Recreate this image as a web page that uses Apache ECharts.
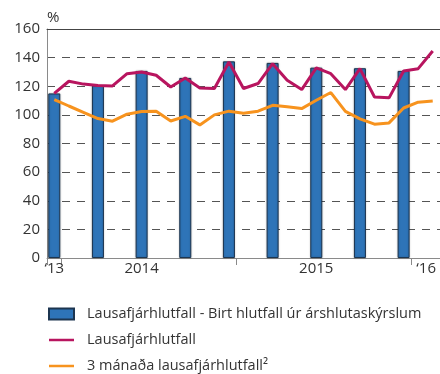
<!DOCTYPE html>
<html>
<head>
<meta charset="utf-8">
<script src="https://cdn.jsdelivr.net/npm/echarts@6/dist/echarts.min.js"></script>
<style>
html,body{margin:0;padding:0;background:#fff;}
#chart{width:440px;height:374px;}
</style>
</head>
<body>
<div id="chart"></div>
<script>
// mánuðir, des 2013 - feb 2016
var months = ['2013-12','2014-01','2014-02','2014-03','2014-04','2014-05','2014-06','2014-07','2014-08','2014-09','2014-10','2014-11','2014-12',
    '2015-01','2015-02','2015-03','2015-04','2015-05','2015-06','2015-07','2015-08','2015-09','2015-10','2015-11','2015-12','2016-01','2016-02'];
// merki á x-ás (index -> texti)
var xLabels = {0:"‘13", 6:'2014', 18:'2015', 25:"‘16"};
var xTicks = [0, 1, 13, 25];
// birt hlutfall úr árshlutaskýrslum (ársfjórðungslega)
var birt = [115,null,null,120.6,null,null,130.7,null,null,125.8,null,null,137.4,null,null,136.3,null,null,133,null,null,132.6,null,null,130.7,null,null];
var lausafe = [115,123.5,121.5,120.5,120.2,128.8,130,127.7,119.5,125.8,118.8,118.4,137,118.4,121.9,135.8,124.2,117.7,132.8,128.8,117.7,132.3,112.5,111.9,130.7,132.3,144.6];
var thrirMan = [110.7,106.2,101.8,97.4,95.6,100.5,102.3,102.6,95.7,99,93,100,102.6,101.2,102.6,106.7,105.6,104.4,110.2,115.6,102.5,97.2,93.5,94.4,104.8,108.9,109.7];
var yTicks = [0, 160, 20];

var names = ['Lausafjárhlutfall - Birt hlutfall úr árshlutaskýrslum', 'Lausafjárhlutfall', '3 mánaða lausafjárhlutfall²'];
var font = '"Open Sans", "Noto Sans", sans-serif';
var flat = 'path://M0,0H10V1H0Z'; // nánast ósýnilegt tákn, bara línan sést

var myChart = echarts.init(document.getElementById('chart'));
var option = {
    animation: false,
    textStyle: {fontFamily: font},
    grid: {left: 47, right: -3, top: 29, bottom: 116},
    legend: {
        orient: 'vertical',
        left: 48,
        top: 306,
        padding: 0,
        height: 68,
        itemWidth: 25,
        itemHeight: 11,
        itemGap: 10,
        data: [
            {name: names[0], icon: 'rect'},
            {name: names[1], icon: flat},
            {name: names[2], icon: flat}
        ],
        textStyle: {fontSize: 14.5, color: '#333', fontFamily: font, padding: [0, 0, 0, 8], lineHeight: 16}
    },
    xAxis: [{
        type: 'category',
        data: months,
        axisLine: {lineStyle: {color: '#8a8a8a', width: 1}},
        axisTick: {
            show: true,
            length: 7,
            lineStyle: {color: '#8a8a8a'},
            interval: function (i) { return xTicks.indexOf(i) >= 0; }
        },
        axisLabel: {
            interval: 0,
            fontSize: 15,
            color: '#333',
            margin: 3,
            formatter: function (v, i) {
                if (i === 25) return '{r|' + xLabels[i] + '}';
                return xLabels[i] || '';
            },
            rich: {r: {fontSize: 15, color: '#333', padding: [0, 0, 0, 16]}}
        }
    }, {
        type: 'category',
        data: months,
        position: 'top',
        axisLine: {lineStyle: {color: '#444', width: 1}},
        axisTick: {show: false},
        axisLabel: {show: false}
    }],
    yAxis: {
        type: 'value',
        min: yTicks[0],
        max: yTicks[1],
        interval: yTicks[2],
        name: '%',
        nameLocation: 'end',
        nameGap: 4,
        nameTextStyle: {fontSize: 15, color: '#333', align: 'left'},
        axisLine: {show: true, lineStyle: {color: '#8a8a8a'}},
        axisTick: {show: false},
        axisLabel: {fontSize: 15, color: '#333', margin: 7},
        splitLine: {lineStyle: {color: '#555', type: [8, 7], width: 1}}
    },
    series: [{
        name: names[0],
        type: 'bar',
        data: birt,
        barWidth: 12,
        itemStyle: {
            color: '#2e74b8',
            borderColor: '#1c3550',
            borderWidth: 1,
            shadowColor: 'rgba(0,0,0,0.25)',
            shadowBlur: 2
        }
    }, {
        name: names[1],
        type: 'line',
        data: lausafe,
        symbol: 'none',
        lineStyle: {color: '#b8155f', width: 3},
        itemStyle: {color: '#b8155f'}
    }, {
        name: names[2],
        type: 'line',
        data: thrirMan,
        symbol: 'none',
        lineStyle: {color: '#f7931e', width: 3},
        itemStyle: {color: '#f7931e'}
    }]
};
myChart.setOption(option);
</script>
</body>
</html>
